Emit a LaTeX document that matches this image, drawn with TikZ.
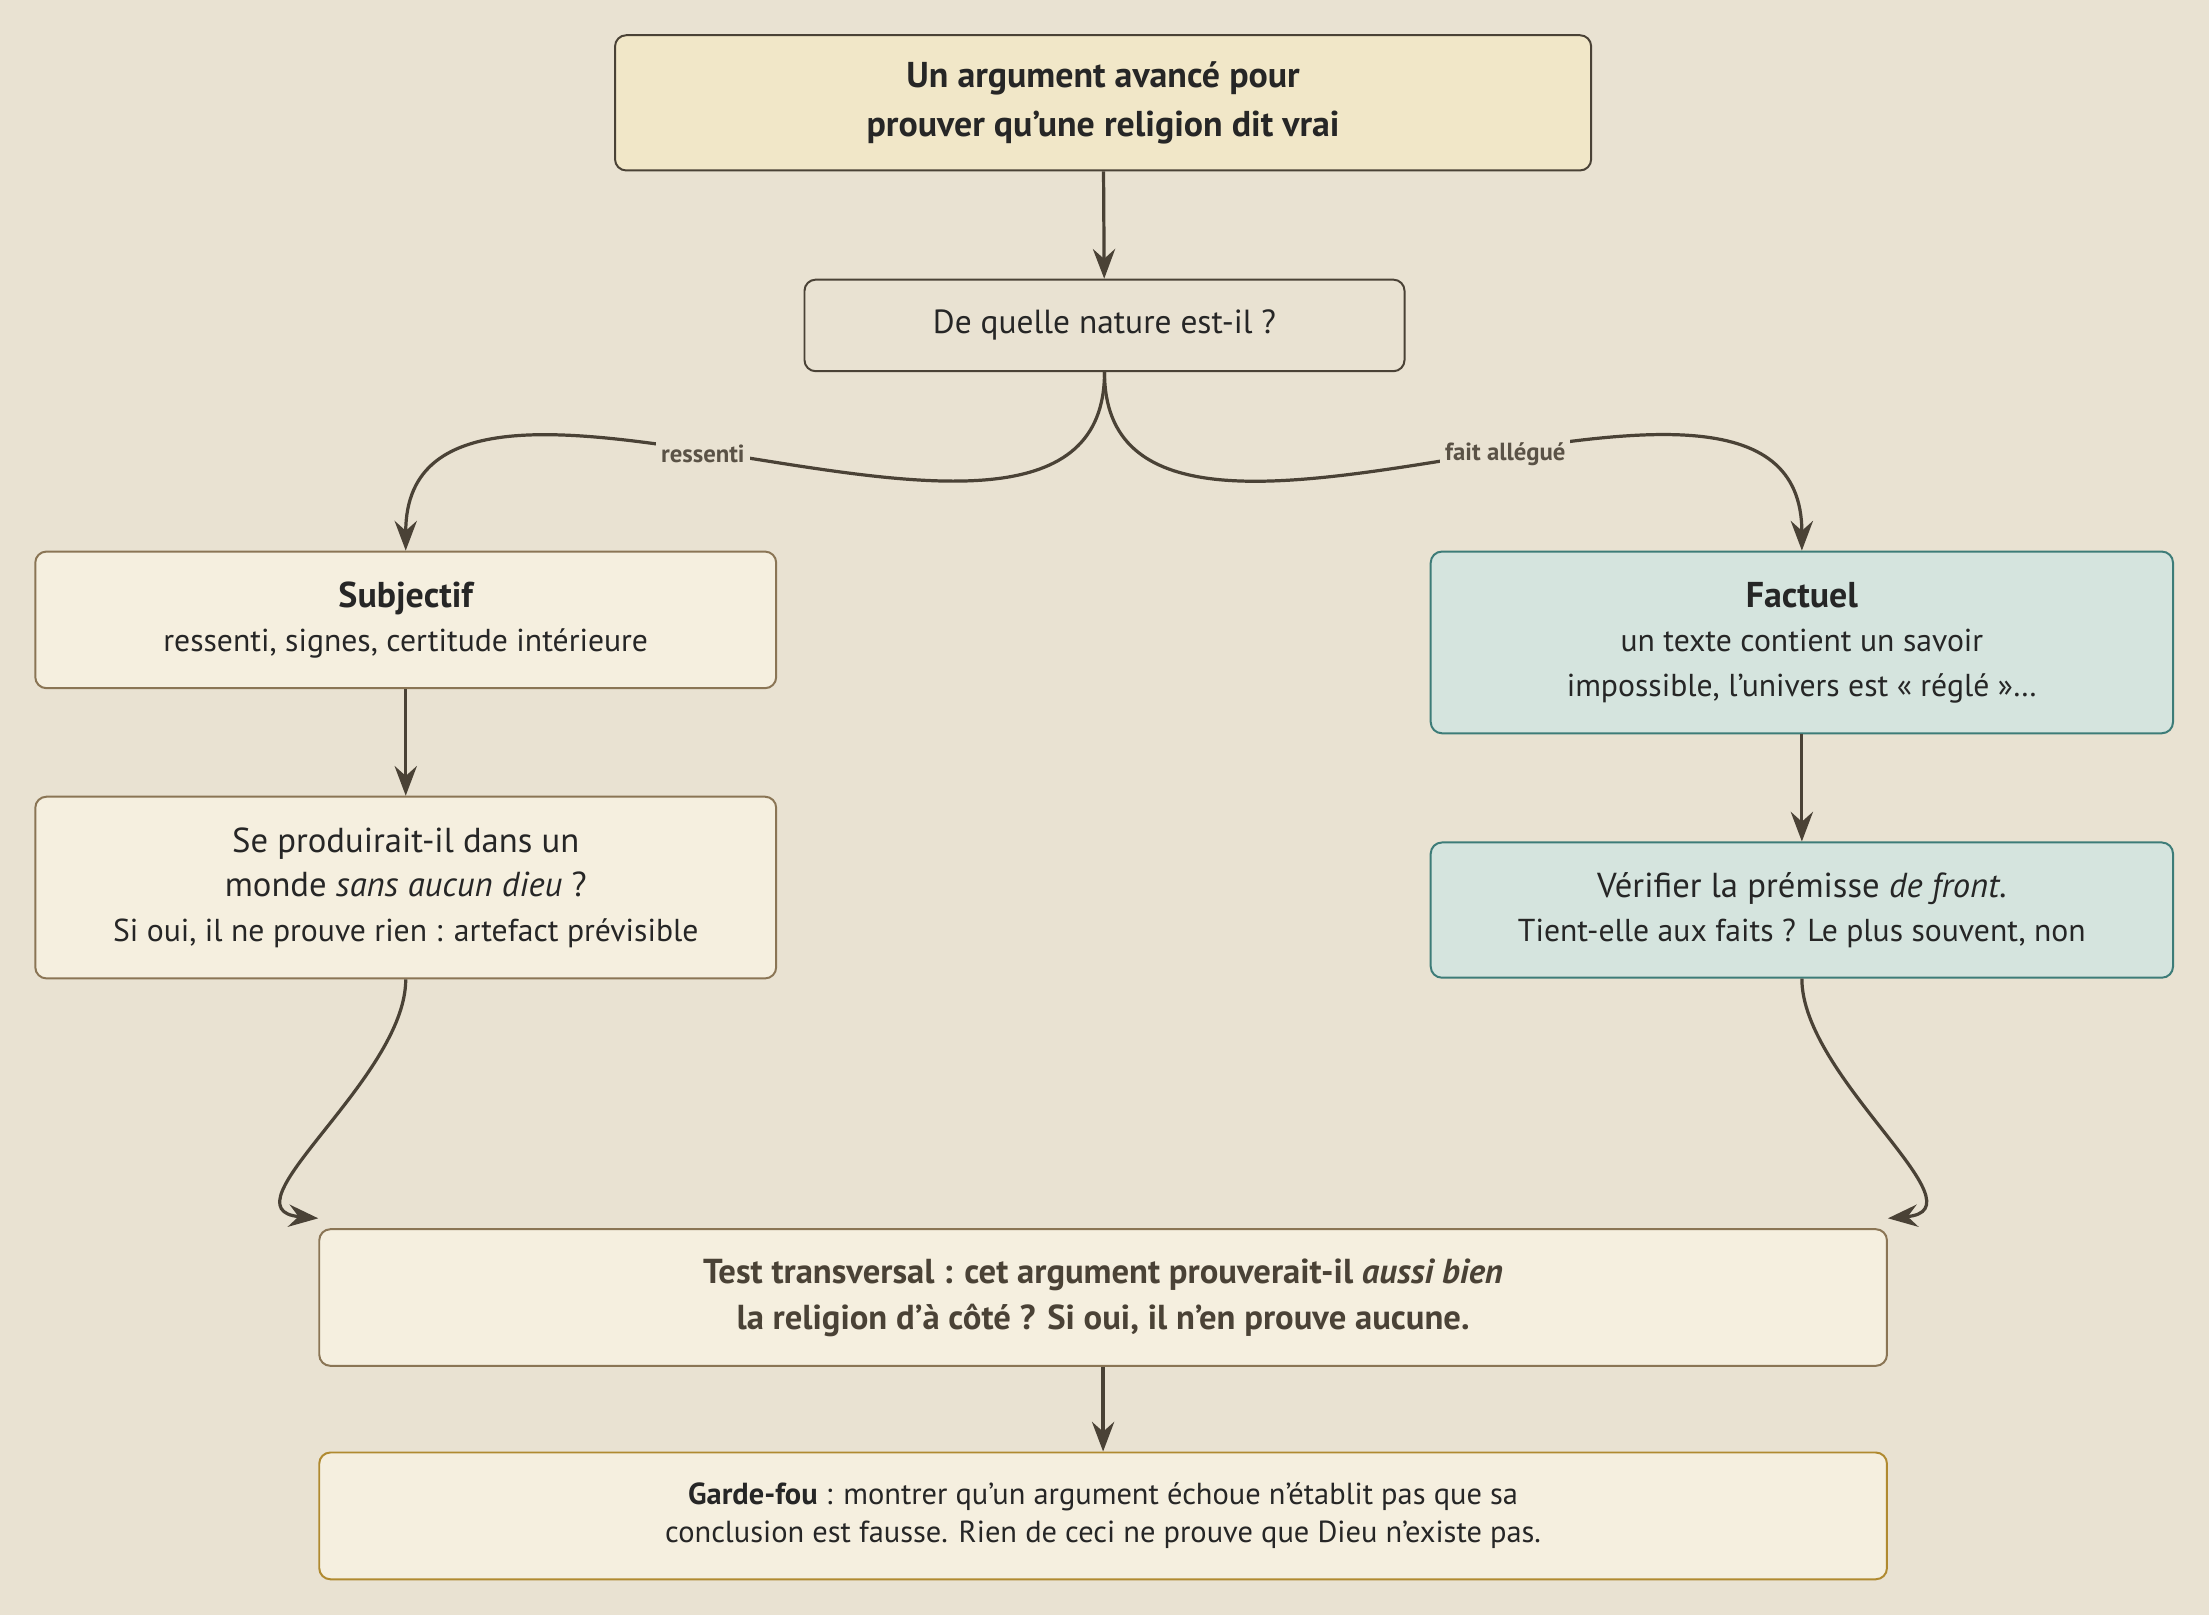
\documentclass[tikz,border=0pt]{standalone}
\usepackage{fontspec}
\setmainfont{PT Sans}
\usetikzlibrary{arrows.meta}
\definecolor{bgbeige}{HTML}{E9E2D2}
\definecolor{topfill}{HTML}{F1E7C8}
\definecolor{boxfill}{HTML}{F5EFDF}
\definecolor{factfill}{HTML}{D5E4DE}
\definecolor{inkdark}{HTML}{4A4236}
\definecolor{boxedge}{HTML}{8A7555}
\definecolor{tealedge}{HTML}{3D7C78}
\definecolor{goldedge}{HTML}{B08A30}
\definecolor{labelgray}{HTML}{5A5246}
\tikzset{
  box/.style={draw=boxedge,fill=boxfill,rectangle,rounded corners=4.5pt,
    line width=0.8pt,align=center,text=black!85,font=\fontsize{12.8}{18}\selectfont},
  topbox/.style={box,draw=inkdark,fill=topfill,font=\fontsize{14.5}{20}\selectfont\bfseries},
  askbox/.style={box,draw=inkdark,fill=bgbeige,font=\fontsize{13.5}{18}\selectfont},
  factbox/.style={box,draw=tealedge,fill=factfill},
  link/.style={draw=inkdark,line width=1.3pt,
    -{Stealth[length=12pt,width=9pt,inset=4pt]}},
  tag/.style={fill=bgbeige,inner sep=2pt,text=labelgray,
    font=\fontsize{10}{12}\selectfont\bfseries}
}
\begin{document}
\begin{tikzpicture}[x=0.02cm,y=-0.02cm]
  \fill[bgbeige] (0,0) rectangle (1568,1146);
  \useasboundingbox (0,0) rectangle (1568,1146);

  % boxes
  \node[topbox,minimum width=13.86cm,minimum height=1.92cm] (arg) at (783,73)
    {Un argument avancé pour\\prouver qu’une religion dit vrai};
  \node[askbox,minimum width=8.52cm,minimum height=1.3cm] (nature) at (784,231)
    {De quelle nature est-il ?};
  \node[box,minimum width=10.52cm,minimum height=1.94cm] (subj) at (288,440)
    {{\fontsize{14.5}{19}\selectfont\bfseries Subjectif}\\ressenti, signes, certitude intérieure};
  \node[factbox,minimum width=10.54cm,minimum height=2.58cm] (fact) at (1279,456)
    {{\fontsize{14.5}{19}\selectfont\bfseries Factuel}\\un texte contient un savoir\\impossible, l’univers est « réglé »…};
  \node[box,minimum width=10.52cm,minimum height=2.58cm] (monde) at (288,630)
    {{\fontsize{14}{18}\selectfont Se produirait-il dans un}\\
     {\fontsize{14}{18}\selectfont monde \emph{sans aucun dieu} ?}\\
     Si oui, il ne prouve rien : artefact prévisible};
  \node[factbox,minimum width=10.54cm,minimum height=1.92cm] (verif) at (1279,646)
    {{\fontsize{14}{18}\selectfont Vérifier la prémisse \emph{de front}.}\\
     Tient-elle aux faits ? Le plus souvent, non};
  \node[box,text=inkdark,font=\fontsize{14}{18.5}\selectfont\bfseries,
    minimum width=22.26cm,minimum height=1.94cm] (test) at (783,921)
    {Test transversal : cet argument prouverait-il \emph{aussi bien}\\
     la religion d’à côté ? Si oui, il n’en prouve aucune.};
  \node[box,draw=goldedge,font=\fontsize{12.3}{15.5}\selectfont,
    minimum width=22.26cm,minimum height=1.8cm] (garde) at (783,1076)
    {\textbf{Garde-fou} : montrer qu’un argument échoue n’établit pas que sa\\
     conclusion est fausse. Rien de ceci ne prouve que Dieu n’existe pas.};

  % links
  \draw[link] (arg) -- (nature);
  \draw[link] (nature.south) to[out=-90,in=90]
    node[tag,pos=0.55] {ressenti} (subj.north);
  \draw[link] (nature.south) to[out=-90,in=90]
    node[tag,pos=0.55] {fait allégué} (fact.north);
  \draw[link] (subj) -- (monde);
  \draw[link] (fact) -- (verif);
  \draw[link] (monde.south) to[out=-90,in=175] ([yshift=4pt]test.north west);
  \draw[link] (verif.south) to[out=-90,in=5] ([yshift=4pt]test.north east);
  \draw[link] (test) -- (garde);
\end{tikzpicture}
\end{document}
